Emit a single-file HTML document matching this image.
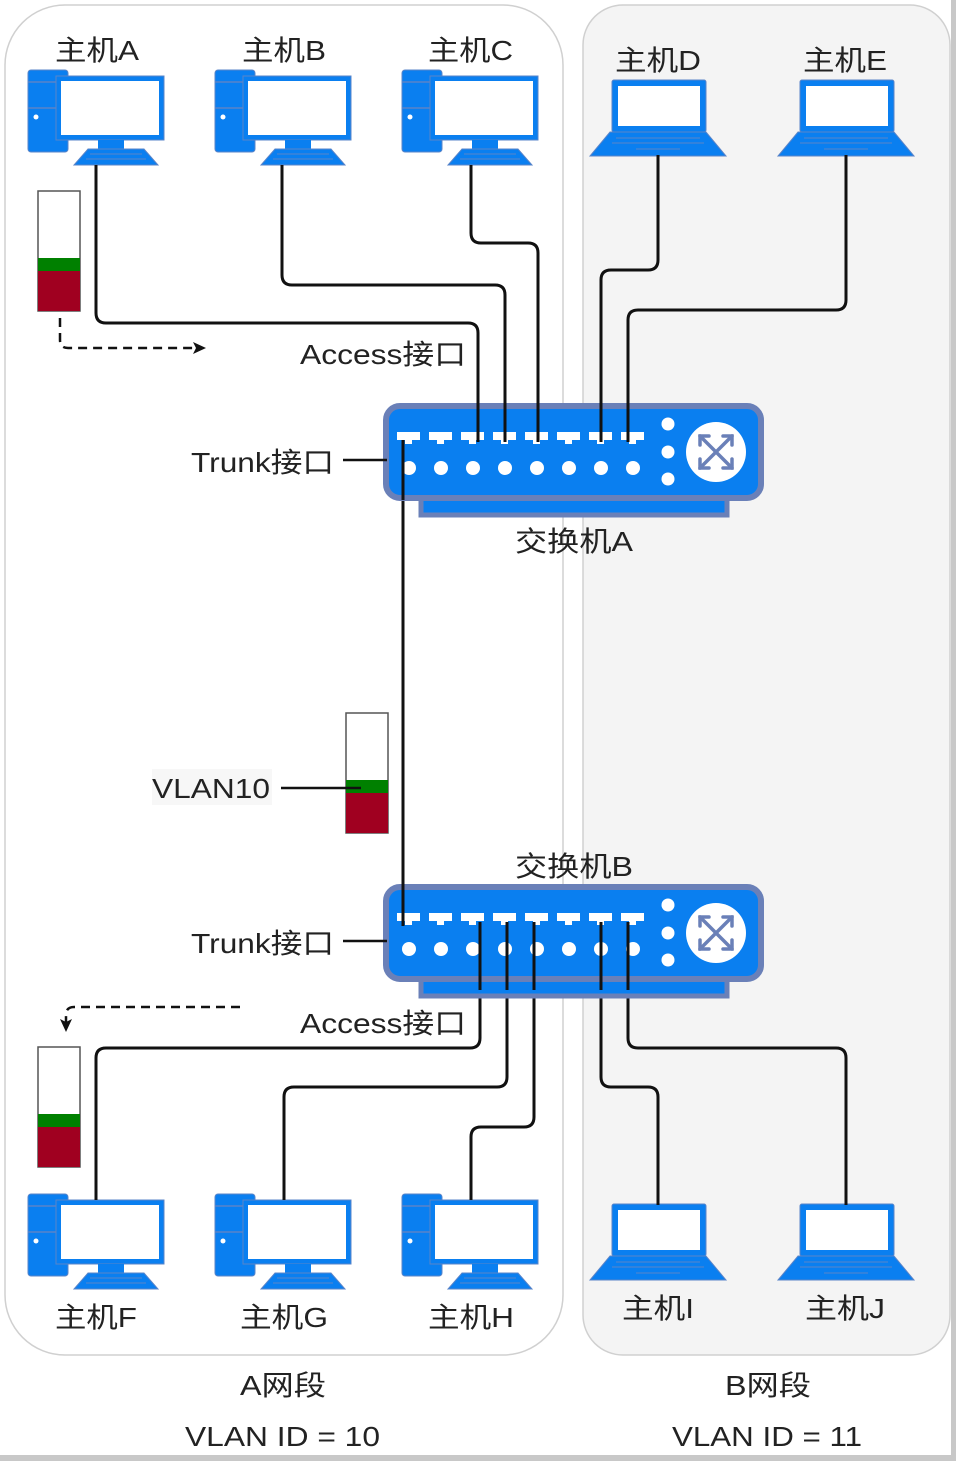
<!DOCTYPE html>
<html><head><meta charset="utf-8"><style>
html,body{margin:0;padding:0;background:#fff;}
svg{display:block;}
text{font-family:"Liberation Sans","Noto Sans CJK SC",sans-serif;fill:#222;}
</style></head><body>
<svg width="956" height="1461" viewBox="0 0 956 1461" xmlns="http://www.w3.org/2000/svg">
<defs>
<g id="pc">
  <rect x="0" y="0" width="40" height="82" rx="3" fill="#0a7ff0" stroke="#5a84c8" stroke-width="1"/>
  <line x1="0" y1="12" x2="40" y2="12" stroke="#5a84c8" stroke-width="1.5"/>
  <line x1="0" y1="38" x2="40" y2="38" stroke="#5a84c8" stroke-width="1.5"/>
  <circle cx="8" cy="47" r="2.5" fill="#fff"/>
  <rect x="28" y="6" width="108" height="64" fill="#0a7ff0" stroke="#5a84c8" stroke-width="1"/>
  <rect x="33" y="11" width="98" height="54" fill="#fff"/>
  <rect x="70" y="70" width="26" height="9" fill="#0a7ff0"/>
  <polygon points="46,95 130,95 116,79 60,79" fill="#0a7ff0" stroke="#5a84c8" stroke-width="1"/>
  <line x1="62" y1="84" x2="114" y2="84" stroke="#5a84c8" stroke-width="1"/>
  <line x1="58" y1="89" x2="118" y2="89" stroke="#5a84c8" stroke-width="1"/>
</g>
<g id="lap">
  <rect x="22" y="0" width="94" height="52" rx="2" fill="#0a7ff0" stroke="#5a84c8" stroke-width="1"/>
  <rect x="28" y="6" width="82" height="40" fill="#fff"/>
  <polygon points="0,76 136,76 116,52 20,52" fill="#0a7ff0" stroke="#5a84c8" stroke-width="1"/>
  <line x1="26" y1="58" x2="110" y2="58" stroke="#5a84c8" stroke-width="1"/>
  <line x1="22" y1="63" x2="114" y2="63" stroke="#5a84c8" stroke-width="1"/>
  <line x1="46" y1="69" x2="90" y2="69" stroke="#5a84c8" stroke-width="1"/>
</g>
<g id="sw">
  <rect x="38" y="94" width="306" height="18" fill="#0a7ff0" stroke="#6a80b8" stroke-width="5"/>
  <rect x="3" y="3" width="375" height="92" rx="14" fill="#0a7ff0" stroke="#6a80b8" stroke-width="6"/>
  <g fill="#fff">
    <path d="M14 29h23v8h-8v4h-7v-4h-8z"/>
    <path d="M46 29h23v8h-8v4h-7v-4h-8z"/>
    <path d="M78 29h23v8h-8v4h-7v-4h-8z"/>
    <path d="M110 29h23v8h-8v4h-7v-4h-8z"/>
    <path d="M142 29h23v8h-8v4h-7v-4h-8z"/>
    <path d="M174 29h23v8h-8v4h-7v-4h-8z"/>
    <path d="M206 29h23v8h-8v4h-7v-4h-8z"/>
    <path d="M238 29h23v8h-8v4h-7v-4h-8z"/>
    <circle cx="26" cy="65" r="7"/><circle cx="58" cy="65" r="7"/><circle cx="90" cy="65" r="7"/><circle cx="122" cy="65" r="7"/>
    <circle cx="154" cy="65" r="7"/><circle cx="186" cy="65" r="7"/><circle cx="218" cy="65" r="7"/><circle cx="250" cy="65" r="7"/>
    <circle cx="285" cy="21" r="6.5"/><circle cx="285" cy="49" r="6.5"/><circle cx="285" cy="76" r="6.5"/>
    <circle cx="333" cy="49" r="30"/>
  </g>
  <g stroke="#6a80b8" stroke-width="3.5" fill="none" stroke-linecap="round">
    <line x1="317" y1="33" x2="349" y2="65"/><line x1="349" y1="33" x2="317" y2="65"/>
    <path d="M317 42v-9h9M349 42v-9h-9M317 56v9h9M349 56v9h-9"/>
  </g>
</g>
</defs>

<rect x="0" y="0" width="956" height="1461" fill="#fff"/>
<rect x="951" y="0" width="5" height="1461" fill="#c8c8c8"/>
<rect x="0" y="1455" width="956" height="6" fill="#c8c8c8"/>

<rect x="5" y="5" width="558" height="1350" rx="60" fill="#fff" stroke="#d0d0d0" stroke-width="1.5"/>
<rect x="583" y="5" width="367" height="1350" rx="40" fill="#f4f4f4" stroke="#d0d0d0" stroke-width="1.5"/>

<use href="#pc" x="28" y="70"/>
<use href="#pc" x="215" y="70"/>
<use href="#pc" x="402" y="70"/>
<use href="#lap" x="590" y="80"/>
<use href="#lap" x="778" y="80"/>
<text x="55" y="60" font-size="28" textLength="84" lengthAdjust="spacingAndGlyphs">主机A</text>
<text x="242" y="60" font-size="28" textLength="84" lengthAdjust="spacingAndGlyphs">主机B</text>
<text x="428" y="60" font-size="28" textLength="85" lengthAdjust="spacingAndGlyphs">主机C</text>
<text x="615" y="70" font-size="28" textLength="86" lengthAdjust="spacingAndGlyphs">主机D</text>
<text x="803" y="70" font-size="28" textLength="84" lengthAdjust="spacingAndGlyphs">主机E</text>

<use href="#pc" x="28" y="1194"/>
<use href="#pc" x="215" y="1194"/>
<use href="#pc" x="402" y="1194"/>
<use href="#lap" x="590" y="1204"/>
<use href="#lap" x="778" y="1204"/>
<text x="55" y="1327" font-size="28" textLength="82" lengthAdjust="spacingAndGlyphs">主机F</text>
<text x="240" y="1327" font-size="28" textLength="88" lengthAdjust="spacingAndGlyphs">主机G</text>
<text x="428" y="1327" font-size="28" textLength="86" lengthAdjust="spacingAndGlyphs">主机H</text>
<text x="622" y="1318" font-size="28" textLength="72" lengthAdjust="spacingAndGlyphs">主机I</text>
<text x="805" y="1318" font-size="28" textLength="80" lengthAdjust="spacingAndGlyphs">主机J</text>

<g fill="none" stroke="#111" stroke-width="3">
  <path d="M96 165V313q0 10 10 10H468q10 0 10 10V440"/>
  <path d="M282 165V275q0 10 10 10H495q10 0 10 10V440"/>
  <path d="M471 165V233q0 10 10 10H528q10 0 10 10V440"/>
  <path d="M658 155V260q0 10 -10 10H611q-10 0 -10 10V440"/>
  <path d="M846 155V300q0 10 -10 10H638q-10 0 -10 10V440"/>
  <path d="M403 445V926"/>
  <path d="M480 922V1038q0 10 -10 10H106q-10 0 -10 10V1200"/>
  <path d="M507 922V1077q0 10 -10 10H294q-10 0 -10 10V1200"/>
  <path d="M534 922V1117q0 10 -10 10H481q-10 0 -10 10V1200"/>
  <path d="M601 922V1077q0 10 10 10H648q10 0 10 10V1205"/>
  <path d="M628 922V1038q0 10 10 10H836q10 0 10 10V1205"/>
</g>

<use href="#sw" x="383" y="403"/>
<use href="#sw" x="383" y="884"/>
<g fill="none" stroke="#111" stroke-width="3">
  <path d="M478 403V442M505 403V442M538 403V442M601 403V442M628 403V442M403 440V500"/>
  <path d="M403 884V926M480 922V990M507 922V990M534 922V990M601 922V990M628 922V990"/>
</g>
<text x="515" y="551" font-size="28" textLength="118" lengthAdjust="spacingAndGlyphs">交换机A</text>
<text x="515" y="876" font-size="28" textLength="118" lengthAdjust="spacingAndGlyphs">交换机B</text>

<text x="191" y="472" font-size="28" textLength="143" lengthAdjust="spacingAndGlyphs">Trunk接口</text>
<line x1="343" y1="460" x2="387" y2="460" stroke="#111" stroke-width="2.5"/>
<text x="191" y="953" font-size="28" textLength="143" lengthAdjust="spacingAndGlyphs">Trunk接口</text>
<line x1="343" y1="941" x2="387" y2="941" stroke="#111" stroke-width="2.5"/>
<text x="300" y="364" font-size="28" textLength="166" lengthAdjust="spacingAndGlyphs">Access接口</text>
<text x="300" y="1033" font-size="28" textLength="166" lengthAdjust="spacingAndGlyphs">Access接口</text>

<g>
  <rect x="38" y="191" width="42" height="120" fill="#fff" stroke="#555" stroke-width="1.5"/>
  <rect x="38" y="258" width="42" height="13" fill="#008000"/>
  <rect x="38" y="271" width="42" height="40" fill="#a00020"/>
  <rect x="346" y="713" width="42" height="120" fill="#fff" stroke="#555" stroke-width="1.5"/>
  <rect x="346" y="780" width="42" height="13" fill="#008000"/>
  <rect x="346" y="793" width="42" height="40" fill="#a00020"/>
  <rect x="38" y="1047" width="42" height="120" fill="#fff" stroke="#555" stroke-width="1.5"/>
  <rect x="38" y="1114" width="42" height="13" fill="#008000"/>
  <rect x="38" y="1127" width="42" height="40" fill="#a00020"/>
</g>
<rect x="152" y="769" width="120" height="36" fill="#f7f7f7"/>
<text x="152" y="798" font-size="28" textLength="118" lengthAdjust="spacingAndGlyphs">VLAN10</text>
<line x1="281" y1="788" x2="361" y2="788" stroke="#111" stroke-width="2.5"/>

<g fill="none" stroke="#111" stroke-width="2.5" stroke-dasharray="9,6">
  <path d="M60 318V340q0 8 8 8H196"/>
  <path d="M240 1007H74q-8 0 -8 8V1022"/>
</g>
<polygon points="206,348 193,342 196,348 193,354" fill="#111"/>
<polygon points="66,1032 60,1019 66,1022 72,1019" fill="#111"/>

<text x="240" y="1395" font-size="28" textLength="86" lengthAdjust="spacingAndGlyphs">A网段</text>
<text x="185" y="1446" font-size="28" textLength="195" lengthAdjust="spacingAndGlyphs">VLAN ID = 10</text>
<text x="725" y="1395" font-size="28" textLength="86" lengthAdjust="spacingAndGlyphs">B网段</text>
<text x="672" y="1446" font-size="28" textLength="190" lengthAdjust="spacingAndGlyphs">VLAN ID = 11</text>
</svg>
</body></html>
